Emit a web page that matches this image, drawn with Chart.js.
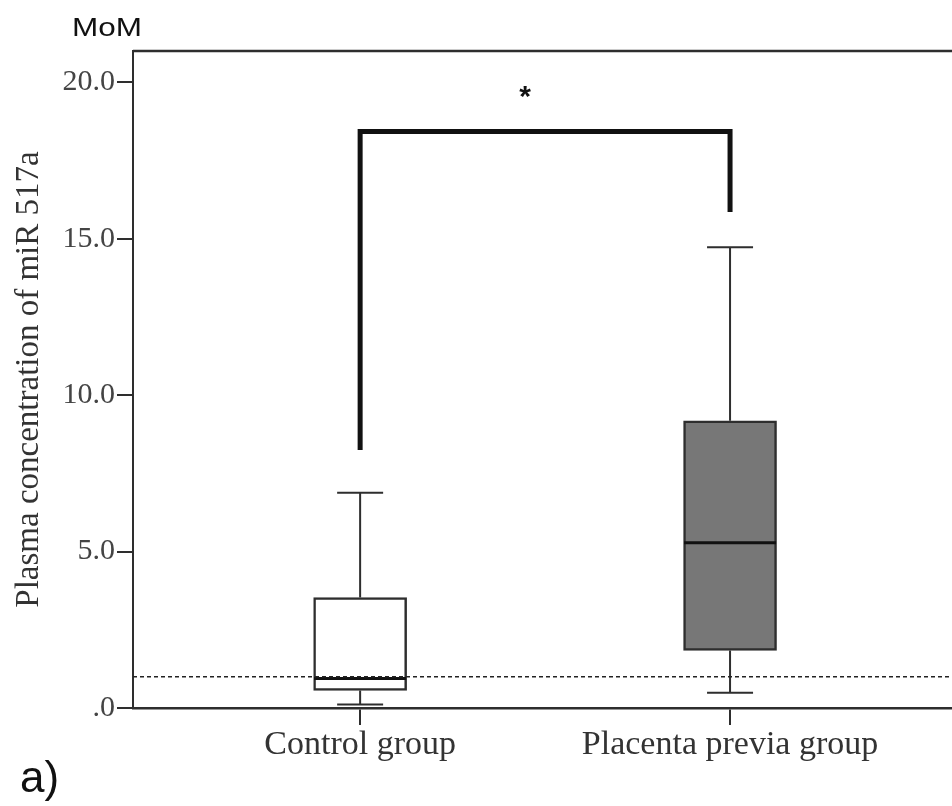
<!DOCTYPE html>
<html>
<head>
<meta charset="utf-8">
<script src="https://cdn.jsdelivr.net/npm/chart.js@4.4.0/dist/chart.umd.min.js"></script>
<style>
  html, body { margin: 0; padding: 0; background: #fff; }
  canvas { display: block; }
</style>
</head>
<body>
<canvas id="boxChart" width="952" height="806"></canvas>
<script>
// Box plot values (MoM)
const groups = ['Control group', 'Placenta previa group'];
const groupPos = [0, 1];
const whiskerLow = [0.11, 0.49];
const q1 = [0.56, 1.84];
const median = [0.94, 5.28];
const q3 = [3.53, 9.18];
const whiskerHigh = [6.88, 14.73];
const boxFill = ['#ffffff', '#777777'];

const referenceLine = 1.0;
// significance bracket: left foot, top, right foot
const bracketY = [8.25, 18.43, 15.85];
const starPos = [0.446, 19.7];

const yTicks = [0, 5, 10, 15, 20];
const yTickLabels = ['.0', '5.0', '10.0', '15.0', '20.0'];

const LINE = '#2e2e2e';
const CAP_HALF = 23;

const boxPlotExtras = {
    id: 'boxPlotExtras',
    afterDatasetsDraw(chart) {
        const ctx = chart.ctx;
        const xs = chart.scales.x, ys = chart.scales.y;
        const area = chart.chartArea;
        ctx.save();

        // top frame line
        ctx.strokeStyle = LINE;
        ctx.lineWidth = 2.5;
        ctx.beginPath();
        ctx.moveTo(area.left, area.top);
        ctx.lineTo(area.right, area.top);
        ctx.stroke();

        // whiskers and caps
        ctx.lineWidth = 2;
        groupPos.forEach((g, i) => {
            const px = xs.getPixelForValue(g);
            const lo = ys.getPixelForValue(whiskerLow[i]);
            const hi = ys.getPixelForValue(whiskerHigh[i]);
            ctx.beginPath();
            ctx.moveTo(px, ys.getPixelForValue(q3[i]));
            ctx.lineTo(px, hi);
            ctx.moveTo(px, ys.getPixelForValue(q1[i]));
            ctx.lineTo(px, lo);
            ctx.moveTo(px - CAP_HALF, hi);
            ctx.lineTo(px + CAP_HALF, hi);
            ctx.moveTo(px - CAP_HALF, lo);
            ctx.lineTo(px + CAP_HALF, lo);
            ctx.stroke();
        });

        // medians
        ctx.strokeStyle = '#111';
        ctx.lineWidth = 3;
        groupPos.forEach((g, i) => {
            const px = xs.getPixelForValue(g);
            const my = ys.getPixelForValue(median[i]);
            ctx.beginPath();
            ctx.moveTo(px - 46, my);
            ctx.lineTo(px + 46, my);
            ctx.stroke();
        });

        // dashed reference line at 1.0 MoM
        ctx.strokeStyle = '#222';
        ctx.lineWidth = 1.5;
        ctx.setLineDash([4, 3]);
        const ry = ys.getPixelForValue(referenceLine);
        ctx.beginPath();
        ctx.moveTo(area.left, ry);
        ctx.lineTo(area.right, ry);
        ctx.stroke();
        ctx.setLineDash([]);

        // significance bracket
        ctx.strokeStyle = '#111';
        ctx.lineWidth = 5;
        ctx.lineJoin = 'miter';
        ctx.beginPath();
        ctx.moveTo(xs.getPixelForValue(groupPos[0]), ys.getPixelForValue(bracketY[0]));
        ctx.lineTo(xs.getPixelForValue(groupPos[0]), ys.getPixelForValue(bracketY[1]));
        ctx.lineTo(xs.getPixelForValue(groupPos[1]), ys.getPixelForValue(bracketY[1]));
        ctx.lineTo(xs.getPixelForValue(groupPos[1]), ys.getPixelForValue(bracketY[2]));
        ctx.stroke();

        // star
        ctx.fillStyle = '#111';
        ctx.font = 'bold 30px "Liberation Sans"';
        ctx.textAlign = 'center';
        ctx.textBaseline = 'middle';
        ctx.fillText('*', xs.getPixelForValue(starPos[0]), ys.getPixelForValue(starPos[1]) + 6);

        ctx.restore();
    },
    afterDraw(chart) {
        const ctx = chart.ctx;
        ctx.save();
        ctx.fillStyle = '#111';
        ctx.textBaseline = 'alphabetic';
        // "MoM" unit label, slightly wide lettering
        ctx.font = '25px "Liberation Sans"';
        ctx.translate(72, 36);
        ctx.scale(1.26, 1);
        ctx.fillText('MoM', 0, 0);
        ctx.restore();

        ctx.save();
        ctx.fillStyle = '#111';
        ctx.font = '44px "Liberation Sans"';
        ctx.textBaseline = 'alphabetic';
        ctx.fillText('a)', 20, 792);
        ctx.restore();
    }
};

new Chart(document.getElementById('boxChart'), {
    type: 'bar',
    data: {
        datasets: [{
            data: groupPos.map((g, i) => ({ x: g, y: [q1[i], q3[i]] })),
            backgroundColor: boxFill,
            borderColor: LINE,
            borderWidth: 2.5,
            borderSkipped: false,
            barThickness: 93
        }]
    },
    options: {
        responsive: false,
        animation: false,
        layout: { padding: { top: 51, right: 0, left: 0, bottom: 0 } },
        plugins: { legend: { display: false }, tooltip: { enabled: false } },
        scales: {
            x: {
                type: 'linear',
                min: -0.614,
                max: 1.6,
                offset: false,
                afterBuildTicks: s => { s.ticks = groupPos.map(v => ({ value: v })); },
                afterFit: s => { s.height = 98; },
                ticks: {
                    callback: (v, i) => groups[i],
                    font: { family: 'Liberation Serif', size: 34 },
                    color: '#333',
                    padding: 0,
                    maxRotation: 0,
                    autoSkip: false
                },
                grid: { offset: false, drawOnChartArea: false, tickLength: 17, color: LINE, lineWidth: 2 },
                border: { color: LINE, width: 2.5 }
            },
            y: {
                min: 0,
                max: 21,
                afterBuildTicks: s => { s.ticks = yTicks.map(v => ({ value: v })); },
                afterFit: s => { s.width = 133; },
                ticks: {
                    callback: (v, i) => yTickLabels[i],
                    font: { family: 'Liberation Serif', size: 30 },
                    color: '#444',
                    padding: 2
                },
                grid: { drawOnChartArea: false, tickLength: 16, color: LINE, lineWidth: 2 },
                border: { color: LINE, width: 2 },
                title: {
                    display: true,
                    text: 'Plasma concentration of miR 517a',
                    font: { family: 'Liberation Serif', size: 33 },
                    color: '#333',
                    padding: { top: 10, bottom: 0 }
                }
            }
        }
    },
    plugins: [boxPlotExtras]
});
</script>
</body>
</html>
